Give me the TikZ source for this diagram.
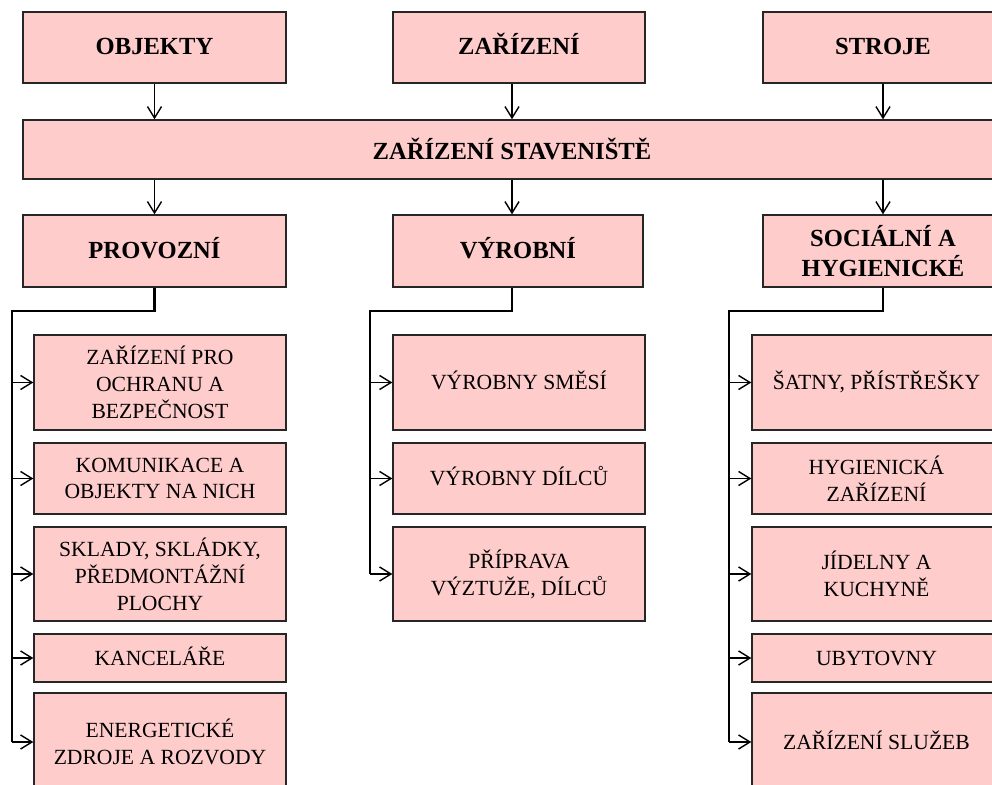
\documentclass[tikz,border=0pt]{standalone}
\usepackage{fontspec}
\setmainfont{Liberation Serif}
\usetikzlibrary{arrows.meta}
\definecolor{boxpink}{HTML}{FFCCCC}
\tikzset{
  box/.style={draw=black!85, line width=0.8pt, fill=boxpink, align=center, inner sep=2pt},
  head/.style={box, font=\fontsize{14}{17}\selectfont\bfseries},
  leaf/.style={box, font=\fontsize{12.3}{15.3}\selectfont},
  oneline/.style={text height=0.8em, text depth=0em},
  arr/.style={line width=0.8pt, -{Straight Barb[length=6.5pt,width=8pt]}},
  branch/.style={line width=1.2pt},
}

\begin{document}
\begin{tikzpicture}[x=0.02cm, y=-0.02cm]
    \useasboundingbox (0,0) rectangle (992,785);
    \clip (0,0) rectangle (992,785);

    % Horni rada
    \node[head, oneline, minimum width=5.26cm, minimum height=1.42cm] (objekty) at (154.5,47.5) {OBJEKTY};
    \node[head, oneline, minimum width=5.04cm, minimum height=1.42cm] (zarizeni) at (519,47.5) {ZAŘÍZENÍ};
    \node[head, oneline, minimum width=4.8cm, minimum height=1.42cm] (stroje) at (883,47.5) {STROJE};

    % Zarizeni staveniste
    \node[head, minimum width=19.56cm, minimum height=1.18cm] (stav) at (512,149.5) {ZAŘÍZENÍ STAVENIŠTĚ};

    % Druha rada
    \node[head, oneline, minimum width=5.26cm, minimum height=1.44cm] (provozni) at (154.5,251) {PROVOZNÍ};
    \node[head, oneline, minimum width=5.0cm, minimum height=1.44cm] (vyrobni) at (518,251) {VÝROBNÍ};
    \node[head, minimum width=4.8cm, minimum height=1.44cm] (socialni) at (883,251) {SOCIÁLNÍ A\\HYGIENICKÉ};

    % Provozni
    \node[leaf, minimum width=5.04cm, minimum height=1.9cm] (p1) at (160,382.5) {ZAŘÍZENÍ PRO\\OCHRANU A\\BEZPEČNOST};
    \node[leaf, minimum width=5.04cm, minimum height=1.42cm] (p2) at (160,478.5) {KOMUNIKACE A\\OBJEKTY NA NICH};
    \node[leaf, minimum width=5.04cm, minimum height=1.88cm] (p3) at (160,574) {SKLADY, SKLÁDKY,\\PŘEDMONTÁŽNÍ\\PLOCHY};
    \node[leaf, oneline, minimum width=5.04cm, minimum height=0.96cm] (p4) at (160,658) {KANCELÁŘE};
    \node[leaf, minimum width=5.04cm, minimum height=1.96cm] (p5) at (160,742) {ENERGETICKÉ\\ZDROJE A ROZVODY};

    % Vyrobni
    \node[leaf, oneline, minimum width=5.04cm, minimum height=1.9cm] (v1) at (519,382.5) {VÝROBNY SMĚSÍ};
    \node[leaf, oneline, minimum width=5.04cm, minimum height=1.42cm] (v2) at (519,478.5) {VÝROBNY DÍLCŮ};
    \node[leaf, minimum width=5.04cm, minimum height=1.88cm] (v3) at (519,574) {PŘÍPRAVA\\VÝZTUŽE, DÍLCŮ};

    % Socialni a hygienicke
    \node[leaf, oneline, minimum width=4.98cm, minimum height=1.9cm] (s1) at (876.5,382.5) {ŠATNY, PŘÍSTŘEŠKY};
    \node[leaf, minimum width=4.98cm, minimum height=1.42cm] (s2) at (876.5,478.5) {HYGIENICKÁ\\ZAŘÍZENÍ};
    \node[leaf, minimum width=4.98cm, minimum height=1.88cm] (s3) at (876.5,574) {JÍDELNY A\\KUCHYNĚ};
    \node[leaf, oneline, minimum width=4.98cm, minimum height=0.96cm] (s4) at (876.5,658) {UBYTOVNY};
    \node[leaf, oneline, minimum width=4.98cm, minimum height=1.96cm] (s5) at (876.5,742) {ZAŘÍZENÍ SLUŽEB};

    % Sipky nahore
    \draw[arr] (objekty.south) -- (objekty.south |- stav.north);
    \draw[arr] (zarizeni.south -| stav) -- (stav.north);
    \draw[arr] (stroje.south) -- (stroje.south |- stav.north);
    \draw[arr] (stav.south -| provozni) -- (provozni.north);
    \draw[arr] (stav.south) -- (stav.south |- vyrobni.north);
    \draw[arr] (stav.south -| socialni) -- (socialni.north);

    % Vetve
    \coordinate (pbus) at (12,311);
    \coordinate (vbus) at (370,311);
    \coordinate (sbus) at (729,311);
    \draw[branch] (provozni.south) |- (pbus) -- (pbus |- p5.west);
    \draw[branch] (vyrobni.south -| stav) |- (vbus) -- (vbus |- v3.west);
    \draw[branch] (socialni.south) |- (sbus) -- (sbus |- s5.west);
    \foreach \n in {p1,p2,p3,p4,p5}
        \draw[arr] (pbus |- \n.west) -- (\n.west);
    \foreach \n in {v1,v2,v3}
        \draw[arr] (vbus |- \n.west) -- (\n.west);
    \foreach \n in {s1,s2,s3,s4,s5}
        \draw[arr] (sbus |- \n.west) -- (\n.west);
\end{tikzpicture}
\end{document}
